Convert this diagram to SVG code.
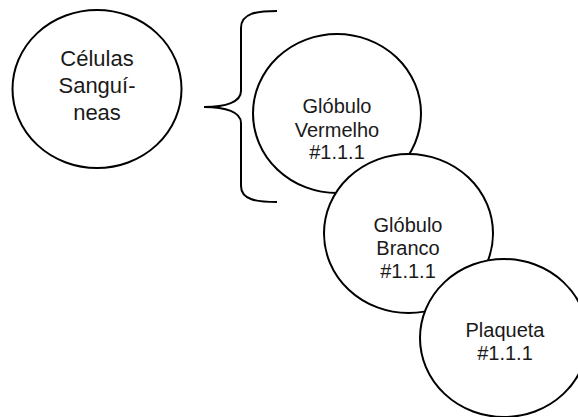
<svg xmlns="http://www.w3.org/2000/svg" width="578" height="417" viewBox="0 0 578 417">
  <style>
    .cell { fill: #ffffff; stroke: #000000; stroke-width: 2; }
    .brace { fill: none; stroke: #000000; stroke-width: 2; }
    text { font-family: "Liberation Sans", Arial, Helvetica, sans-serif; fill: #1a1a1a; text-anchor: middle; }
    .big { font-size: 22px; }
    .lbl { font-size: 20px; }
  </style>
  <rect width="578" height="417" fill="#ffffff"/>

  <!-- root category -->
  <g id="celulas-sanguineas">
    <ellipse class="cell" cx="97" cy="89" rx="84.5" ry="79"/>
    <text class="big" x="97" y="65.5">Células</text>
    <text class="big" x="97" y="92.5">Sanguí-</text>
    <text class="big" x="97" y="119.5">neas</text>
  </g>

  <!-- curly brace grouping the members -->
  <g id="connectors">
    <path class="brace" d="M277,11 C257,11 241,13 241,28 L241,91 C241,102 226,107 204,107 C226,107 241,112 241,123 L241,186 C241,200 257,202 277,202"/>
  </g>

  <!-- members, each overlapping the previous one -->
  <g id="globulo-vermelho">
    <ellipse class="cell" cx="337" cy="113.5" rx="84" ry="79.5"/>
    <text class="lbl" x="337" y="113.3">Glóbulo</text>
    <text class="lbl" x="337" y="136.5">Vermelho</text>
    <text class="lbl" x="337" y="159">#1.1.1</text>
  </g>

  <g id="globulo-branco">
    <ellipse class="cell" cx="408.5" cy="233.5" rx="84.5" ry="79.5"/>
    <text class="lbl" x="408" y="231.7">Glóbulo</text>
    <text class="lbl" x="408" y="255">Branco</text>
    <text class="lbl" x="408" y="277.7">#1.1.1</text>
  </g>

  <g id="plaqueta">
    <ellipse class="cell" cx="504" cy="338" rx="84" ry="79"/>
    <text class="lbl" x="505" y="336.7">Plaqueta</text>
    <text class="lbl" x="505" y="360">#1.1.1</text>
  </g>
</svg>
